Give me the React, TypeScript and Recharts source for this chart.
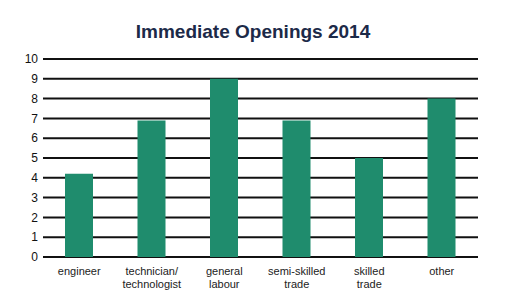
import { BarChart, Bar, XAxis, YAxis, CartesianGrid } from 'recharts'

const categories = ['engineer', 'technician/\ntechnologist', 'general\nlabour', 'semi-skilled\ntrade', 'skilled\ntrade', 'other']
const openings = [4.2, 6.9, 9, 6.9, 5, 8]
const yTicks = [0, 1, 2, 3, 4, 5, 6, 7, 8, 9, 10]

const data = categories.map((name, i) => ({ name, value: openings[i] }))

const font = 'Arial, "Liberation Sans", Helvetica, sans-serif'

function CategoryTick({ x, y, payload }: any) {
  const lines = String(payload.value).split('\n')
  return (
    <text x={x} y={y} textAnchor="middle" fontSize={11} fill="#222" fontFamily={font}>
      {lines.map((line, i) => (
        <tspan key={i} x={x} dy={i === 0 ? 18 : 13}>
          {line}
        </tspan>
      ))}
    </text>
  )
}

export default function App() {
  return (
    <div style={{ position: 'absolute', left: 0, top: 0, width: 508, height: 300, background: '#fff', fontFamily: font }}>
      <div
        style={{
          position: 'absolute',
          top: 21,
          left: 0,
          width: 506,
          textAlign: 'center',
          fontSize: 19,
          fontWeight: 'bold',
          color: '#1c2a48',
        }}
      >
        Immediate Openings 2014
      </div>
      <BarChart width={508} height={300} data={data} margin={{ top: 59, right: 30, bottom: 13, left: 0 }}>
        <CartesianGrid vertical={false} stroke="#111" strokeWidth={2} />
        <XAxis
          dataKey="name"
          height={30}
          axisLine={false}
          tickLine={false}
          tickSize={0}
          tickMargin={0}
          interval={0}
          tick={<CategoryTick />}
        />
        <YAxis
          width={43}
          domain={[0, 10]}
          ticks={yTicks}
          interval={0}
          axisLine={false}
          tickLine={false}
          tickSize={0}
          tickMargin={5}
          tick={{ fontSize: 12, fill: '#111', fontFamily: font }}
        />
        <Bar dataKey="value" fill="#1f8c6d" barSize={28} isAnimationActive={false} />
      </BarChart>
    </div>
  )
}
